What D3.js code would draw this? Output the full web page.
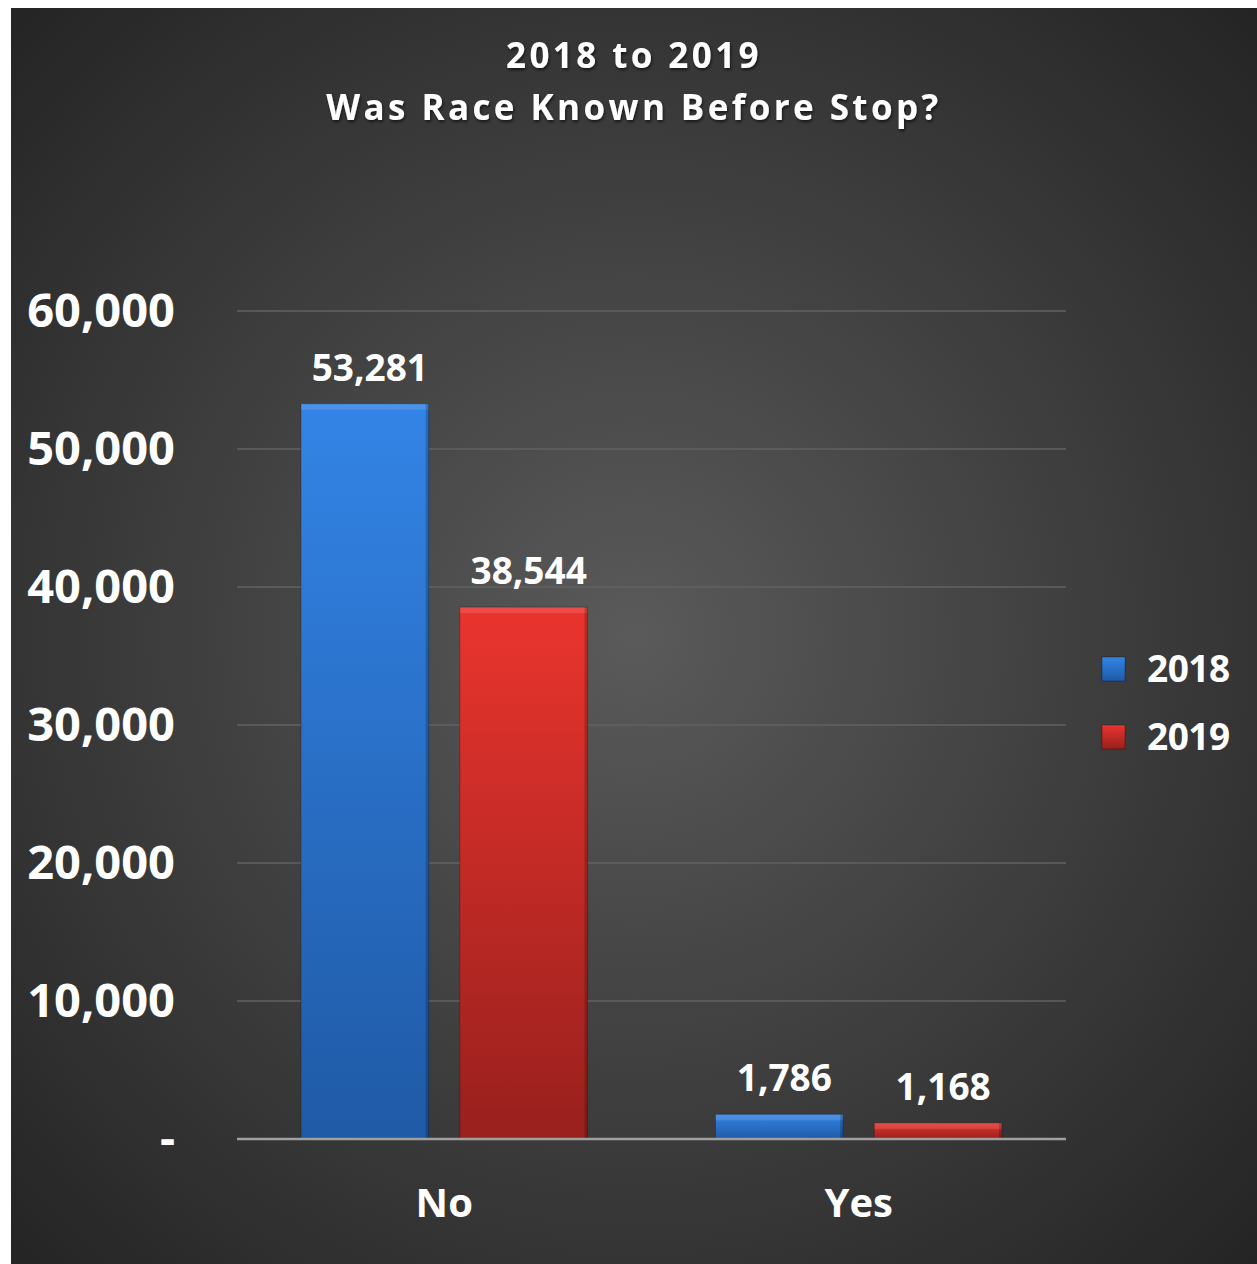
<!DOCTYPE html>
<html>
<head>
<meta charset="utf-8">
<script src="https://cdn.jsdelivr.net/npm/d3@7"></script>
<style>
  html, body { margin: 0; padding: 0; background: #ffffff; }
  svg { display: block; }
  text { font-family: "Open Sans", "Lato", sans-serif; font-weight: 700; fill: #ffffff; }
</style>
</head>
<body>
<svg id="chart" width="1257" height="1264"></svg>
<script>
// Stops by whether race was known before the stop
const categories = ["No", "Yes"];
const years = ["2018", "2019"];
const values2018 = [53281, 1786];
const values2019 = [38544, 1168];
const yTicks = [0, 10000, 20000, 30000, 40000, 50000, 60000];
const titleLines = ["2018 to 2019", "Was Race Known Before Stop?"];

const seriesValues = [values2018, values2019];
const svg = d3.select("#chart");
const W = 1257, H = 1264;

const defs = svg.append("defs");
const bg = defs.append("radialGradient").attr("id", "bgGrad")
  .attr("cx", "0.5").attr("cy", "0.5").attr("r", "0.72");
bg.append("stop").attr("offset", "0").attr("stop-color", "#5a5a5a");
bg.append("stop").attr("offset", "1").attr("stop-color", "#232323");

const barColors = {
  "2018": ["#3384e6", "#1f5aa6"],
  "2019": ["#ea342e", "#98201d"]
};
years.forEach(y => {
  const g = defs.append("linearGradient").attr("id", "bar" + y)
    .attr("x1", 0).attr("y1", 0).attr("x2", 0).attr("y2", 1);
  g.append("stop").attr("offset", "0").attr("stop-color", barColors[y][0]);
  g.append("stop").attr("offset", "1").attr("stop-color", barColors[y][1]);
});

const shadow = defs.append("filter").attr("id", "txtShadow")
  .attr("x", "-10%").attr("y", "-30%").attr("width", "120%").attr("height", "160%");
shadow.append("feDropShadow").attr("dx", 1).attr("dy", 2).attr("stdDeviation", 1.5)
  .attr("flood-color", "#000").attr("flood-opacity", 0.6);

// background panel
svg.append("rect").attr("x", 11).attr("y", 8).attr("width", W - 11).attr("height", H - 8)
  .attr("fill", "url(#bgGrad)");

const plot = { left: 237, right: 1066, top: 311, bottom: 1139 };

const x0 = d3.scaleBand().domain(categories).range([plot.left, plot.right])
  .paddingInner(0).paddingOuter(0);
const x1 = d3.scaleBand().domain(years).range([64, x0.bandwidth() - 64]).paddingInner(0.196);
const y = d3.scaleLinear().domain([0, 60000]).range([plot.bottom, plot.top]);

// gridlines
svg.append("g").selectAll("line").data(yTicks.filter(t => t > 0)).join("line")
  .attr("x1", plot.left).attr("x2", plot.right)
  .attr("y1", d => y(d)).attr("y2", d => y(d))
  .attr("stroke", "#626262").attr("stroke-width", 1.5);

// y axis labels
const yAxis = d3.axisLeft(y).tickValues(yTicks).tickSize(0).tickPadding(0)
  .tickFormat(d => d === 0 ? "-" : d3.format(",")(d));
const yg = svg.append("g").attr("transform", `translate(175,0)`).call(yAxis);
yg.select(".domain").remove();
yg.selectAll("text").attr("font-size", 47).attr("fill", "#fff")
  .attr("font-family", '"Open Sans", sans-serif').attr("font-weight", 700)
  .attr("letter-spacing", "0px");

// bars
const groups = svg.append("g").selectAll("g").data(categories).join("g")
  .attr("transform", d => `translate(${x0(d)},0)`);

groups.each(function (cat, ci) {
  const g = d3.select(this);
  years.forEach((yr, si) => {
    const v = seriesValues[si][ci];
    const bx = x1(yr), bw = x1.bandwidth(), by = y(v), bh = y(0) - y(v);
    g.append("rect").attr("x", bx).attr("y", by).attr("width", bw).attr("height", bh)
      .attr("fill", `url(#bar${yr})`);
    // bevel highlight on top, shade on sides
    const bev = Math.min(6, bh / 2);
    g.append("rect").attr("x", bx).attr("y", by).attr("width", bw).attr("height", bev)
      .attr("fill", "#ffffff").attr("opacity", 0.12);
    g.append("rect").attr("x", bx + bw - 3).attr("y", by).attr("width", 3).attr("height", bh)
      .attr("fill", "#000").attr("opacity", 0.2);
    g.append("rect").attr("x", bx).attr("y", by).attr("width", bw).attr("height", bh)
      .attr("fill", "none").attr("stroke", "#000").attr("stroke-opacity", 0.25).attr("stroke-width", 1);
    g.append("text").attr("x", bx + bw / 2 + 5).attr("y", by - 23)
      .attr("text-anchor", "middle").attr("font-size", 37).attr("letter-spacing", "0px")
      .text(d3.format(",")(v));
  });
});

// baseline
svg.append("line").attr("x1", plot.left).attr("x2", plot.right)
  .attr("y1", y(0)).attr("y2", y(0))
  .attr("stroke", "#a0a0a0").attr("stroke-width", 2.5);

// category labels
const xAxis = d3.axisBottom(x0).tickSize(0).tickPadding(0);
const xg = svg.append("g").attr("transform", `translate(0,${plot.bottom + 78})`).call(xAxis);
xg.select(".domain").remove();
xg.selectAll("text").attr("font-size", 40).attr("fill", "#fff").attr("dy", 0)
  .attr("font-family", '"Open Sans", sans-serif').attr("font-weight", 700);

// legend
const legend = svg.append("g").selectAll("g").data(years).join("g")
  .attr("transform", (d, i) => `translate(1102,${657 + i * 68})`);
legend.append("rect").attr("width", 23).attr("height", 24)
  .attr("fill", d => `url(#bar${d})`).attr("stroke", "#000").attr("stroke-opacity", 0.3);
legend.append("text").attr("x", 45).attr("y", 12).attr("dy", "0.35em")
  .attr("font-size", 37).attr("letter-spacing", "-0.5px").text(d => d);

// title
svg.append("g").selectAll("text").data(titleLines).join("text")
  .attr("x", 634).attr("y", (d, i) => 68 + i * 52)
  .attr("text-anchor", "middle").attr("font-size", 35).attr("letter-spacing", "3.4px")
  .attr("fill", "#f2f2f2").attr("filter", "url(#txtShadow)")
  .text(d => d);
</script>
</body>
</html>
